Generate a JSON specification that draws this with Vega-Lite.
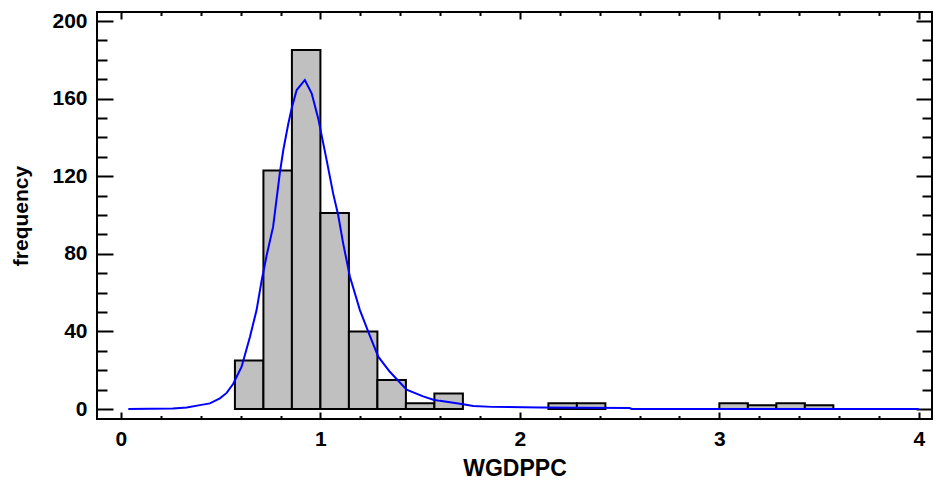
{
  "$schema": "https://vega.github.io/schema/vega-lite/v6.json",
  "width": 835,
  "height": 407,
  "autosize": {"type": "none"},
  "padding": {"left": 97, "top": 12, "right": 1, "bottom": 65},
  "background": "white",
  "config": {"view": {"stroke": "black", "strokeWidth": 2}, "font": "Liberation Sans"},
  "datasets": {
    "bars": [
      {"bin_start": 0.5714, "bin_end": 0.7143, "count": 25},
      {"bin_start": 0.7143, "bin_end": 0.8571, "count": 123},
      {"bin_start": 0.8571, "bin_end": 1.0, "count": 185},
      {"bin_start": 1.0, "bin_end": 1.1429, "count": 101},
      {"bin_start": 1.1429, "bin_end": 1.2857, "count": 40},
      {"bin_start": 1.2857, "bin_end": 1.4286, "count": 15},
      {"bin_start": 1.4286, "bin_end": 1.5714, "count": 3},
      {"bin_start": 1.5714, "bin_end": 1.7143, "count": 8},
      {"bin_start": 2.1429, "bin_end": 2.2857, "count": 3},
      {"bin_start": 2.2857, "bin_end": 2.4286, "count": 3},
      {"bin_start": 3.0, "bin_end": 3.1429, "count": 3},
      {"bin_start": 3.1429, "bin_end": 3.2857, "count": 2},
      {"bin_start": 3.2857, "bin_end": 3.4286, "count": 3},
      {"bin_start": 3.4286, "bin_end": 3.5714, "count": 2}
    ],
    "curve": [
      {"x": 0.037, "y": 0},
      {"x": 0.26, "y": 0.3},
      {"x": 0.33, "y": 0.8},
      {"x": 0.396, "y": 2},
      {"x": 0.446, "y": 2.9},
      {"x": 0.496, "y": 5.5},
      {"x": 0.53, "y": 8.3},
      {"x": 0.563, "y": 13},
      {"x": 0.605, "y": 21.8},
      {"x": 0.647, "y": 37.3},
      {"x": 0.68, "y": 51},
      {"x": 0.705, "y": 66},
      {"x": 0.73, "y": 79},
      {"x": 0.763, "y": 94},
      {"x": 0.797, "y": 122},
      {"x": 0.814, "y": 133.5},
      {"x": 0.839, "y": 147},
      {"x": 0.856, "y": 155},
      {"x": 0.881, "y": 164.4},
      {"x": 0.922, "y": 169.6},
      {"x": 0.956, "y": 162.7},
      {"x": 0.989, "y": 149.8},
      {"x": 1.031, "y": 128.4},
      {"x": 1.064, "y": 111},
      {"x": 1.089, "y": 100},
      {"x": 1.114, "y": 85.4},
      {"x": 1.148, "y": 68.2},
      {"x": 1.198, "y": 51},
      {"x": 1.245, "y": 38.5},
      {"x": 1.29, "y": 27},
      {"x": 1.348, "y": 19.2},
      {"x": 1.432, "y": 10},
      {"x": 1.515, "y": 6.5},
      {"x": 1.566, "y": 4.8},
      {"x": 1.599, "y": 4.2},
      {"x": 1.716, "y": 2.5},
      {"x": 1.766, "y": 1.6},
      {"x": 1.86, "y": 1.1},
      {"x": 2.1, "y": 0.8},
      {"x": 2.3, "y": 0.7},
      {"x": 2.55, "y": 0.5},
      {"x": 2.56, "y": 0},
      {"x": 4.0, "y": 0}
    ]
  },
  "layer": [
    {
      "data": {"name": "bars"},
      "mark": {"type": "rect", "fill": "#c0c0c0", "stroke": "black", "strokeWidth": 2},
      "encoding": {
        "x": {
          "field": "bin_start", "type": "quantitative",
          "scale": {"domain": [-0.12, 4.066], "nice": false, "zero": false},
          "axis": {
            "orient": "bottom", "title": "WGDPPC", "domain": false, "grid": false,
            "values": [0, 0.2, 0.4, 0.6, 0.8, 1, 1.2, 1.4, 1.6, 1.8, 2, 2.2, 2.4, 2.6, 2.8, 3, 3.2, 3.4, 3.6, 3.8, 4],
            "labelExpr": "datum.value % 1 == 0 ? format(datum.value, 'd') : ''",
            "tickSize": {"condition": {"test": "datum.value % 1 == 0", "value": -7}, "value": -3.5},
            "tickColor": "black", "tickWidth": 2,
            "labelFont": "Liberation Sans", "labelFontSize": 21, "labelFontWeight": "bold", "labelColor": "black",
            "labelPadding": 16, "labelFlush": false, "labelOverlap": false,
            "titleFont": "Liberation Sans", "titleFontSize": 23, "titleFontWeight": "bold", "titleColor": "black",
            "titlePadding": 5
          }
        },
        "x2": {"field": "bin_end"},
        "y": {
          "field": "count", "type": "quantitative",
          "scale": {"domain": [-5.15, 204.64], "nice": false, "zero": false},
          "axis": {
            "orient": "left", "title": "frequency", "domain": false, "grid": false,
            "values": [0, 10, 20, 30, 40, 50, 60, 70, 80, 90, 100, 110, 120, 130, 140, 150, 160, 170, 180, 190, 200],
            "labelExpr": "datum.value % 40 == 0 ? format(datum.value, 'd') : ''",
            "tickSize": {"condition": {"test": "datum.value % 40 == 0", "value": -16}, "value": -10},
            "tickColor": "black", "tickWidth": 2,
            "labelFont": "Liberation Sans", "labelFontSize": 21, "labelFontWeight": "bold", "labelColor": "black",
            "labelPadding": 26, "labelFlush": false, "labelOverlap": false,
            "titleFont": "Liberation Sans", "titleFontSize": 21, "titleFontWeight": "bold", "titleColor": "black",
            "titlePadding": 20
          }
        },
        "y2": {"datum": 0}
      }
    },
    {
      "data": {"name": "curve"},
      "mark": {"type": "line", "color": "#0000ff", "strokeWidth": 2},
      "encoding": {
        "x": {
          "field": "x", "type": "quantitative",
          "axis": {
            "orient": "top", "title": null, "domain": false, "grid": false, "labels": false,
            "values": [0, 0.2, 0.4, 0.6, 0.8, 1, 1.2, 1.4, 1.6, 1.8, 2, 2.2, 2.4, 2.6, 2.8, 3, 3.2, 3.4, 3.6, 3.8, 4],
            "tickSize": {"condition": {"test": "datum.value % 1 == 0", "value": -7}, "value": -3.5},
            "tickColor": "black", "tickWidth": 2
          }
        },
        "y": {
          "field": "y", "type": "quantitative",
          "axis": {
            "orient": "right", "title": null, "domain": false, "grid": false, "labels": false,
            "values": [0, 10, 20, 30, 40, 50, 60, 70, 80, 90, 100, 110, 120, 130, 140, 150, 160, 170, 180, 190, 200],
            "tickSize": {"condition": {"test": "datum.value % 40 == 0", "value": -16}, "value": -10},
            "tickColor": "black", "tickWidth": 2
          }
        }
      }
    }
  ],
  "resolve": {"axis": {"x": "independent", "y": "independent"}}
}
